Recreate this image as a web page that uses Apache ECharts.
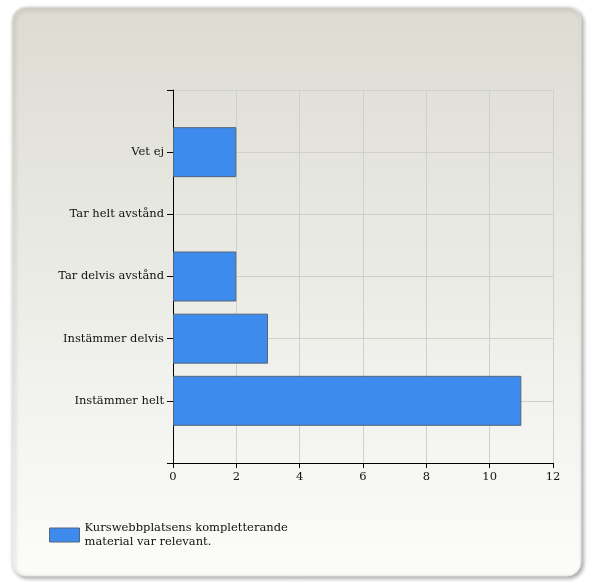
<!DOCTYPE html>
<html>
<head>
<meta charset="utf-8">
<script src="https://cdn.jsdelivr.net/npm/echarts@6/dist/echarts.min.js"></script>
<style>
html,body{margin:0;padding:0;background:#fff;}
#chart{width:589px;height:583px;}
</style>
</head>
<body>
<div id="chart"></div>
<script>
const categories = ['Instämmer helt', 'Instämmer delvis', 'Tar delvis avstånd', 'Tar helt avstånd', 'Vet ej'];
const values = [11, 3, 2, 0, 2];
const xTicks = [0, 2, 4, 6, 8, 10, 12];
const seriesName = 'Kurswebbplatsens kompletterande\nmaterial var relevant.';

const axisCats = [''].concat(categories, ['']);
const barData = [null].concat(values.map(v => v === 0
  ? {value: v, itemStyle: {borderWidth: 0, opacity: 0}}
  : v), [null]);
const font = 'DejaVu Serif';
const fs = 11.5;

const chart = echarts.init(document.getElementById('chart'), null, {renderer: 'canvas'});
chart.setOption({
  animation: false,
  graphic: [{
    type: 'rect',
    z: -10,
    shape: {x: 12, y: 7, width: 569, height: 569, r: 14},
    style: {
      fill: new echarts.graphic.LinearGradient(0, 0, 0, 1, [
        {offset: 0, color: '#dcdcd3'},
        {offset: 1, color: '#fcfcfb'}
      ]),
      stroke: '#e4e4e0',
      lineWidth: 1,
      shadowColor: 'rgba(0,0,0,0.35)',
      shadowBlur: 4,
      shadowOffsetX: 2,
      shadowOffsetY: 2
    }
  }],
  grid: {left: 173, right: 36, top: 90, bottom: 120, containLabel: false},
  legend: {
    left: 49, top: 521, padding: 0,
    itemWidth: 30, itemHeight: 14,
    icon: 'rect',
    itemGap: 6,
    textStyle: {fontFamily: font, fontSize: fs, color: '#111', lineHeight: 14},
    data: [{name: seriesName, itemStyle: {color: '#3d8bec', borderColor: '#55657a', borderWidth: 1}}]
  },
  xAxis: {
    type: 'value', min: 0, max: 12, interval: 2,
    axisLine: {show: true, lineStyle: {color: '#000', width: 1}},
    axisTick: {show: true, length: 5, lineStyle: {color: '#000'}},
    axisLabel: {fontFamily: font, fontSize: fs, color: '#111', margin: 8,
      formatter: v => xTicks.indexOf(v) >= 0 ? String(v) : ''},
    splitLine: {show: true, lineStyle: {color: '#cfcfcb', width: 1}}
  },
  yAxis: {
    type: 'category', data: axisCats, boundaryGap: false,
    axisLine: {show: true, lineStyle: {color: '#000', width: 1}},
    axisTick: {show: true, length: 6, alignWithLabel: true, lineStyle: {color: '#000'}},
    axisLabel: {fontFamily: font, fontSize: fs, color: '#111', margin: 9, interval: 0},
    splitLine: {show: true, lineStyle: {color: '#cfcfcb', width: 1}}
  },
  series: [{
    type: 'bar', name: seriesName, data: barData, barWidth: 50,
    itemStyle: {color: '#3d8bec', borderColor: '#55657a', borderWidth: 1}
  }]
});
</script>
</body>
</html>
